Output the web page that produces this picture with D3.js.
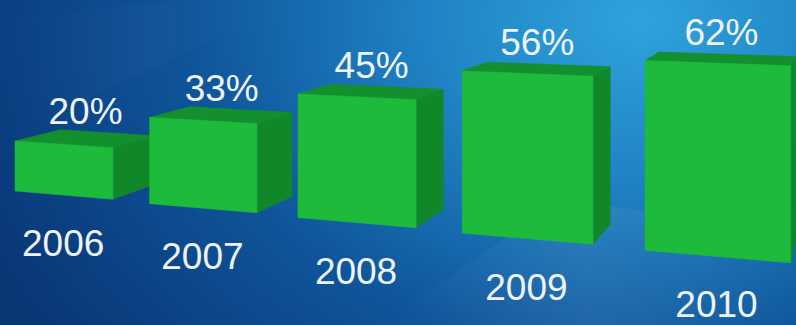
<!DOCTYPE html>
<html><head><meta charset="utf-8">
<script src="https://cdn.jsdelivr.net/npm/d3@7"></script>
<style>html,body{margin:0;padding:0;background:#0b3c7c;overflow:hidden}svg{display:block}</style>
</head><body>
<svg id="chart" width="796" height="325"></svg>
<script>
const years = ["2006", "2007", "2008", "2009", "2010"];
const values = [20, 33, 45, 56, 62];
const valueLabels = ["20%", "33%", "45%", "56%", "62%"];

const W = 796, H = 325;
const svg = d3.select("#chart");
const defs = svg.append("defs");

// background
const bg = defs.append("radialGradient").attr("id", "bg")
  .attr("gradientUnits", "userSpaceOnUse")
  .attr("cx", 640).attr("cy", 20).attr("r", 720)
  .attr("gradientTransform", "translate(640,20) scale(1,0.75) translate(-640,-20)");
bg.append("stop").attr("offset", 0).attr("stop-color", "#2fa3dc");
bg.append("stop").attr("offset", 0.3).attr("stop-color", "#1f82c4");
bg.append("stop").attr("offset", 0.62).attr("stop-color", "#0f559a");
bg.append("stop").attr("offset", 1).attr("stop-color", "#0a3676");
svg.append("rect").attr("width", W).attr("height", H).attr("fill", "url(#bg)");

// subtle light streaks
const streak = defs.append("linearGradient").attr("id", "streak")
  .attr("x1", 0).attr("y1", 0).attr("x2", 1).attr("y2", 0);
streak.append("stop").attr("offset", 0).attr("stop-color", "#ffffff").attr("stop-opacity", 0);
streak.append("stop").attr("offset", 0.5).attr("stop-color", "#ffffff").attr("stop-opacity", 0.06);
streak.append("stop").attr("offset", 1).attr("stop-color", "#ffffff").attr("stop-opacity", 0);
svg.append("path").attr("d", "M380,325 L560,200 L796,230 L796,325 Z").attr("fill", "url(#streak)");
svg.append("path").attr("d", "M0,20 L180,0 L300,0 L40,120 Z").attr("fill", "url(#streak)").attr("opacity", 0.3);

// perspective camera (camera-space world, row receding to the left)
const f = 1000, px = 400, py = -71, camH = 105;
function project(p) {
  return [px + f * p[0] / p[2], py + f * (camH - p[1]) / p[2]];
}
const origin = [-154.3, 0, 400.8];
const rowDir = [0.9536, 0, -0.3011];
const widthDir = [0.961, 0, -0.276];
const depthDir = [0.42, 0, 0.907];
const boxW = 44.5, boxD = 25;

const pos = d3.scalePoint().domain(years).range([0, 4 * 61.45]);
const hScale = d3.scaleLinear().domain([0, 100]).range([0, 100]);

function add(a, b, k) { return [a[0] + b[0] * k, a[1] + b[1] * k, a[2] + b[2] * k]; }
function up(a, h) { return [a[0], a[1] + h, a[2]]; }

const data = years.map((y, i) => ({ year: y, value: values[i], label: valueLabels[i] }));

const line = d3.line();
const g = svg.append("g");

data.forEach(d => {
  const h = hScale(d.value);
  const fbl = add(origin, rowDir, pos(d.year));
  const fbr = add(fbl, widthDir, boxW);
  const bbl = add(fbl, depthDir, boxD);
  const bbr = add(fbr, depthDir, boxD);
  const ftl = up(fbl, h), ftr = up(fbr, h), btr = up(bbr, h), btl = up(bbl, h);
  const bar = g.append("g").attr("class", "bar");
  // right side
  bar.append("path").attr("d", line([fbr, bbr, btr, ftr].map(project)) + "Z")
    .attr("fill", "#10882a").attr("stroke", "#10882a").attr("stroke-width", 0.6);
  // top
  bar.append("path").attr("d", line([ftl, ftr, btr, btl].map(project)) + "Z")
    .attr("fill", "#148f2d").attr("stroke", "#148f2d").attr("stroke-width", 0.6);
  // front
  bar.append("path").attr("d", line([fbl, fbr, ftr, ftl].map(project)) + "Z")
    .attr("fill", "#1dba3c").attr("stroke", "#1dba3c").attr("stroke-width", 0.6);

  // value label above top-face centre
  const topC = project(up(add(add(fbl, widthDir, boxW / 2), depthDir, boxD / 2), h));
  svg.append("text").attr("x", topC[0]).attr("y", topC[1] - 14)
    .attr("text-anchor", "middle").attr("fill", "#eef4ff")
    .attr("font-family", "Liberation Sans, Arial, sans-serif").attr("font-size", 37)
    .text(d.label);
  // year label below front-bottom centre
  const botC = project(add(fbl, widthDir, boxW / 2));
  svg.append("text").attr("x", botC[0]).attr("y", botC[1] + 61)
    .attr("text-anchor", "middle").attr("fill", "#eef4ff")
    .attr("font-family", "Liberation Sans, Arial, sans-serif").attr("font-size", 37)
    .text(d.year);
});
</script>
</body></html>
